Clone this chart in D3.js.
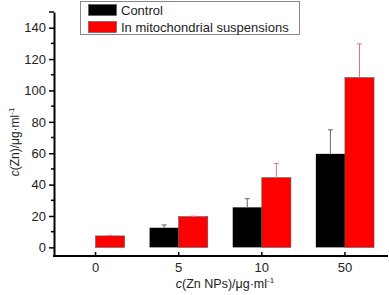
<!DOCTYPE html>
<html lang="en">
<head>
<meta charset="UTF-8" />
<title>Zn content</title>
<script src="https://d3js.org/d3.v7.min.js"></script>
<style>
body { margin: 0; padding: 0; background: #fff; }
svg { display: block; font-family: Arial, "Liberation Sans", sans-serif; }
</style>
</head>
<body>
<svg width="389" height="295"></svg>
<script>
// data
const categories = ["0", "5", "10", "50"];
const controlVals = [0, 12.5, 25.5, 59.6];
const controlErr = [0, 1.8, 5.5, 15.3];
const mitoVals = [7.3, 19.6, 44.4, 108.2];
const mitoErr = [0.4, 0.3, 9.1, 21.5];
const yTicks = [0, 20, 40, 60, 80, 100, 120, 140];
const seriesNames = ["Control", "In mitochondrial suspensions"];

const svg = d3.select("svg");
const mLeft = 54, mRight = 386.5, mTop = 12, mBottom = 256;

const x = d3.scaleBand().domain(categories).range([mLeft, mRight]).paddingInner(0.3).paddingOuter(0.15);
const y = d3.scaleLinear().domain([-5.5, 150]).range([mBottom, mTop]);

const bw = x.bandwidth() / 2;

// bars
const groups = svg.append("g").selectAll("g")
    .data(categories)
    .enter().append("g");

groups.append("rect")
    .attr("x", d => x(d))
    .attr("width", bw)
    .attr("y", (d, i) => y(controlVals[i]))
    .attr("height", (d, i) => y(0) - y(controlVals[i]))
    .attr("fill", "#000");

groups.append("rect")
    .attr("x", d => x(d) + bw)
    .attr("width", bw)
    .attr("y", (d, i) => y(mitoVals[i]))
    .attr("height", (d, i) => y(0) - y(mitoVals[i]))
    .attr("fill", "#ff0000")
    .attr("stroke", "#555")
    .attr("stroke-width", 0.6);

// error bars (upper only)
function errBar(sel, vals, errs, off, col) {
    sel.filter((d, i) => vals[i] > 0).each(function (d) {
        const i = categories.indexOf(d);
        const cx = x(d) + off + bw / 2;
        const g = d3.select(this);
        g.append("line").attr("x1", cx).attr("x2", cx)
            .attr("y1", y(vals[i])).attr("y2", y(vals[i] + errs[i]))
            .attr("stroke", col).attr("stroke-width", 1);
        g.append("line").attr("x1", cx - 2.5).attr("x2", cx + 2.5)
            .attr("y1", y(vals[i] + errs[i])).attr("y2", y(vals[i] + errs[i]))
            .attr("stroke", col).attr("stroke-width", 1);
    });
}
errBar(groups, controlVals, controlErr, 0, "#666");
errBar(groups, mitoVals, mitoErr, bw, "#ff6680");

// y axis
const yAxis = svg.append("g").attr("transform", `translate(${mLeft},0)`)
    .call(d3.axisLeft(y).tickValues(yTicks).tickSize(5).tickSizeOuter(0).tickPadding(3));
yAxis.select(".domain").attr("stroke-width", 2);
yAxis.selectAll("text").attr("font-size", 13).attr("fill", "#222").attr("font-family", "Arial, sans-serif");
yAxis.selectAll("line").attr("stroke-width", 1.5);
// minor ticks
const minor = d3.range(10, 150, 20);
svg.append("g").selectAll("line").data(minor).enter().append("line")
    .attr("x1", mLeft - 3).attr("x2", mLeft)
    .attr("y1", d => y(d)).attr("y2", d => y(d))
    .attr("stroke", "#000").attr("stroke-width", 1.5);
svg.append("line").attr("x1", mLeft - 5).attr("x2", mLeft)
    .attr("y1", mTop).attr("y2", mTop).attr("stroke", "#000").attr("stroke-width", 1.5);

// x axis
const xAxis = svg.append("g").attr("transform", `translate(0,${mBottom})`)
    .call(d3.axisBottom(x).tickSize(-4).tickSizeOuter(0).tickPadding(7));
xAxis.select(".domain").attr("stroke-width", 2).attr("d", `M${mLeft - 1},0H${mRight + 1.5}`);
xAxis.selectAll("line").attr("stroke-width", 1.5);
xAxis.selectAll("text").attr("font-size", 13).attr("fill", "#222").attr("font-family", "Arial, sans-serif");

// axis titles
const yt = svg.append("text").attr("transform", "translate(19,142) rotate(-90)")
    .attr("text-anchor", "middle").attr("font-size", 12).attr("fill", "#222");
yt.append("tspan").attr("font-style", "italic").text("c");
yt.append("tspan").text("(Zn)/μg·ml");
yt.append("tspan").attr("font-size", 8).attr("dy", -5).text("-1");

const xt = svg.append("text").attr("x", 225).attr("y", 288)
    .attr("text-anchor", "middle").attr("font-size", 12.5).attr("fill", "#222");
xt.append("tspan").attr("font-style", "italic").text("c");
xt.append("tspan").text("(Zn NPs)/μg·ml");
xt.append("tspan").attr("font-size", 8).attr("dy", -5).text("-1");

// legend
const lg = svg.append("g");
lg.append("rect").attr("x", 80.5).attr("y", 1.5).attr("width", 219).attr("height", 33)
    .attr("fill", "#fff").attr("stroke", "#888").attr("stroke-width", 1);
const colors = ["#000", "#ff0000"];
seriesNames.forEach((n, i) => {
    lg.append("rect").attr("x", 88.5).attr("y", 4.5 + i * 17).attr("width", 28).attr("height", 11)
        .attr("fill", colors[i]).attr("stroke", "#555").attr("stroke-width", 0.6);
    lg.append("text").attr("x", 121).attr("y", 15 + i * 17).attr("font-size", 13)
        .attr("fill", "#222").text(n);
});
</script>
</body>
</html>
